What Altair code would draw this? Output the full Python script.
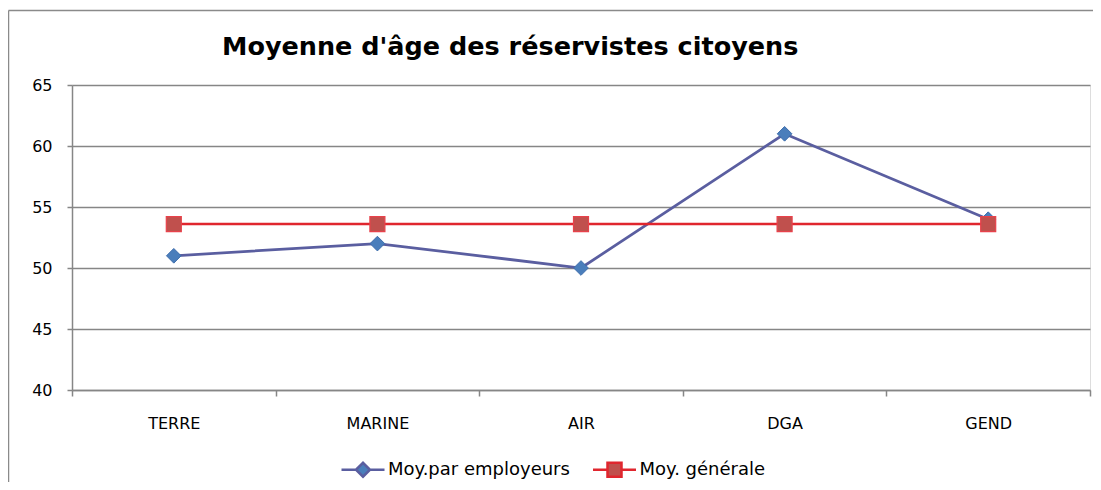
import altair as alt
import pandas as pd

# ---- data ----
categories = ["TERRE", "MARINE", "AIR", "DGA", "GEND"]
moy_employeurs = [51, 52, 50, 61, 54]
moy_generale = [53.6, 53.6, 53.6, 53.6, 53.6]
series_names = ["Moy.par employeurs", "Moy. générale"]
y_ticks = [40, 45, 50, 55, 60, 65]
title_text = "Moyenne d'âge des réservistes citoyens"

rows = []
for c, v in zip(categories, moy_employeurs):
    rows.append({"categorie": c, "serie": series_names[0], "valeur": v})
for c, v in zip(categories, moy_generale):
    rows.append({"categorie": c, "serie": series_names[1], "valeur": v})
df = pd.DataFrame(rows)

FONT = "DejaVu Sans"
GRID = "#868686"
BLUE_LINE = "#5A5EA0"
BLUE_FILL = "#4A7EBB"
RED_LINE = "#E0262E"
RED_FILL = "#C0504D"

X = alt.X(
    "categorie:N",
    sort=categories,
    scale=alt.Scale(type="band", paddingInner=0, paddingOuter=0, domain=categories),
    axis=alt.Axis(
        title=None, labelAngle=0, tickBand="extent", ticks=True, tickSize=6,
        tickColor=GRID, tickWidth=1.5, domainColor=GRID, domainWidth=1.5,
        labelFont=FONT, labelFontSize=16, labelColor="#000000",
        labelPadding=19, labelBaseline="top", grid=False,
    ),
)
Y = alt.Y(
    "valeur:Q",
    scale=alt.Scale(domain=[40, 65], nice=False, zero=False),
    axis=alt.Axis(
        title=None, values=y_ticks, tickSize=5, tickColor=GRID, tickWidth=1.5,
        domainColor=GRID, domainWidth=1.5, grid=True, gridColor=GRID,
        gridWidth=1.5, labelFont=FONT, labelFontSize=16, labelColor="#000000",
        labelPadding=15,
    ),
)

base = alt.Chart(df)

emp = base.transform_filter(alt.datum.serie == series_names[0])
gen = base.transform_filter(alt.datum.serie == series_names[1])

line_emp = emp.mark_line(color=BLUE_LINE, strokeWidth=2.75).encode(x=X, y=Y)
pts_emp = emp.mark_point(shape="diamond", filled=True, fill=BLUE_FILL,
                         stroke="#3F6EAD", strokeWidth=1, size=215, opacity=1).encode(x=X, y=Y)
line_gen = gen.mark_line(color=RED_LINE, strokeWidth=2.5).encode(x=X, y=Y)
pts_gen = gen.mark_point(shape="square", filled=True, fill=RED_FILL,
                         stroke="#E8424B", strokeWidth=1.2, size=225, opacity=1).encode(x=X, y=Y)

# legend-only layer: line + marker symbols
diamond_path = "M-2.15,0L-0.7,0M0.7,0L2.15,0M-0.7,0L0,-0.7L0.7,0L0,0.7Z"
square_path = "M-2.15,0L-0.7,0M0.7,0L2.15,0M-0.7,-0.7L0.7,-0.7L0.7,0.7L-0.7,0.7Z"
leg = alt.Legend(
    orient="none", legendX=279.5, legendY=373, direction="horizontal",
    title=None, symbolSize=400, symbolStrokeWidth=2.5, labelFont=FONT,
    labelFontSize=18, labelColor="#000000", labelOffset=13.5, labelLimit=400,
    columnPadding=17.5, padding=0,
)
legend_layer = base.transform_filter("false").mark_point(filled=True, opacity=1).encode(
    x=X, y=Y,
    shape=alt.Shape("serie:N", scale=alt.Scale(domain=series_names, range=[diamond_path, square_path]), legend=leg),
    fill=alt.Fill("serie:N", scale=alt.Scale(domain=series_names, range=[BLUE_FILL, RED_FILL]), legend=leg),
    stroke=alt.Stroke("serie:N", scale=alt.Scale(domain=series_names, range=[BLUE_LINE, RED_LINE]), legend=leg),
)

# outer frame of the pasted chart (top and left edges)
one = alt.Data(values=[{}])
frame_top = alt.Chart(one).mark_rule(color="#8a8a8a", strokeWidth=1.5).encode(
    x=alt.value(-63.5), x2=alt.value(1030), y=alt.value(-74.5))
frame_left = alt.Chart(one).mark_rule(color="#8a8a8a", strokeWidth=1.5).encode(
    x=alt.value(-63.5), y=alt.value(-74.5), y2=alt.value(420))

chart = alt.layer(
    frame_top, frame_left, line_emp, line_gen, pts_emp, pts_gen, legend_layer
).properties(
    width=1018,
    height=305,
    title=alt.TitleParams(
        title_text, font=FONT, fontSize=25.5, fontWeight="bold", color="#000000",
        anchor="start", frame="group", dx=150, offset=-70.25, baseline="alphabetic",
    ),
    autosize=alt.AutoSizeParams(type="none"),
    padding={"left": 64, "top": 77, "right": 3, "bottom": 92},
).configure_view(stroke=None).configure(background="#ffffff")

chart.save("out.html", embed_options={"renderer": "svg", "actions": False})
